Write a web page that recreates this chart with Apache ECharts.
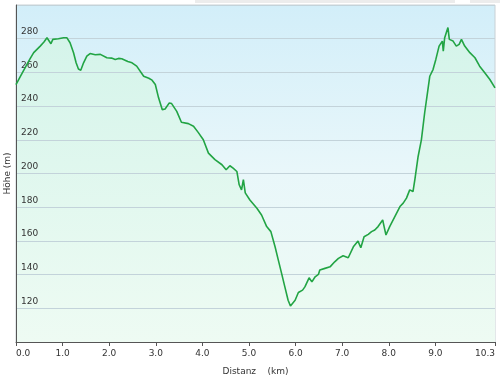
<!DOCTYPE html>
<html>
<head>
<meta charset="utf-8">
<script src="https://cdn.jsdelivr.net/npm/echarts@6/dist/echarts.min.js"></script>
<style>
  html, body { margin: 0; padding: 0; background: #fff; }
  #profil { width: 500px; height: 375px; }
</style>
</head>
<body>
<div id="profil"></div>
<script>
// Distanz in km, Höhe in m
var distanz = [0, 0.1, 0.2, 0.3, 0.38, 0.52, 0.6, 0.665, 0.7, 0.75, 0.79, 0.91, 1.02, 1.09, 1.16, 1.235, 1.29, 1.34, 1.39,
  1.45, 1.52, 1.59, 1.7, 1.81, 1.95, 2.05, 2.13, 2.2, 2.27, 2.4, 2.49, 2.59, 2.74, 2.85, 2.92, 2.99, 3.06, 3.14,
  3.2, 3.29, 3.34, 3.45, 3.55, 3.7, 3.81, 3.91, 4.02, 4.13, 4.27, 4.42, 4.51, 4.59, 4.66, 4.74, 4.79, 4.84, 4.88,
  4.92, 5.02, 5.17, 5.27, 5.38, 5.47, 5.56, 5.63, 5.7, 5.77, 5.84, 5.89, 5.93, 5.99, 6.06, 6.15, 6.2, 6.29, 6.35,
  6.42, 6.49, 6.52, 6.63, 6.74, 6.84, 6.92, 7.02, 7.13, 7.24, 7.34, 7.4, 7.47, 7.56, 7.63, 7.7, 7.77, 7.87, 7.9,
  7.94, 8.02, 8.13, 8.24, 8.31, 8.38, 8.45, 8.52, 8.56, 8.63, 8.7, 8.77, 8.82, 8.88, 8.95, 9.01, 9.08, 9.15, 9.17,
  9.2, 9.27, 9.3, 9.38, 9.45, 9.51, 9.56, 9.63, 9.74, 9.85, 9.95, 10.06, 10.17, 10.28];
var hoehe = [252.8, 258, 263, 268, 271.7, 275.6, 278, 280.6, 281.2, 277, 279.6, 280, 280.6, 280.6, 277.6, 271.7, 265.7, 262, 261.3,
  265.7, 269.6, 271.2, 270.5, 270.7, 268.7, 268.5, 267.7, 268.3, 268.1, 266.5, 265.7, 263.7, 257.7, 256.5, 255.4, 252.8, 244.9, 237.9,
  238.3, 241.9, 241.5, 236.9, 230.4, 229.6, 228, 224.4, 220, 212.1, 208.2, 205.2, 202.2, 204.6, 203.2, 201.2, 193.3, 190.3, 196.3,
  188.5, 184.3, 179.4, 175.4, 168.5, 165.5, 156.5, 148.6, 140.7, 132.7, 124.8, 121.4, 120.5, 124.8, 129.4, 130.8, 132.7, 138.1, 135.7,
  138.7, 140.1, 142.7, 143.7, 144.6, 147.6, 149.6, 151.2, 150, 156.5, 159.9, 155.9, 162.5, 163.9, 165.5, 166.5, 168.5, 172.4, 168.5,
  163.5, 168.5, 174.4, 180.4, 182.4, 185.4, 190.3, 189.3, 196.3, 210.1, 220, 235.9, 245.8, 257.7, 261.7, 267.7, 275.6, 278.6, 272.6,
  280.6, 286.6, 279.6, 278.6, 275.6, 276.6, 279.6, 275.6, 271.7, 268.7, 263.7, 259.8, 255.8, 250.8];
var xTicks = [0, 1, 2, 3, 4, 5, 6, 7, 8, 9, 10.28];

var punkte = distanz.map(function (d, i) { return [d, hoehe[i]]; });

var chart = echarts.init(document.getElementById('profil'));
chart.setOption({
  animation: false,
  textStyle: { fontFamily: 'DejaVu Sans' },
  graphic: [
    { type: 'rect', left: 195, top: 0, shape: { width: 260, height: 3 }, style: { fill: '#ececec' } },
    { type: 'rect', left: 470, top: 0, shape: { width: 30, height: 3 }, style: { fill: '#ececec' } }
  ],
  grid: {
    left: 16, right: 5, top: 5, bottom: 33,
    containLabel: false,
    outerBoundsMode: 'none',
    show: true,
    borderColor: '#c8d0d4',
    borderWidth: 1,
    backgroundColor: {
      type: 'linear', x: 0, y: 0, x2: 0, y2: 1,
      colorStops: [
        { offset: 0, color: '#d2eef9' },
        { offset: 0.5, color: '#e9f7fa' },
        { offset: 1, color: '#eefbf3' }
      ]
    }
  },
  xAxis: {
    type: 'value',
    min: 0, max: 10.28,
    z: 6,
    name: 'Distanz    (km)',
    nameLocation: 'middle',
    nameGap: 25,
    nameMoveOverlap: false,
    nameTextStyle: { fontSize: 9, color: '#333' },
    axisLine: { lineStyle: { color: '#555' } },
    axisTick: { length: 4, customValues: xTicks, lineStyle: { color: '#555' } },
    axisLabel: {
      customValues: xTicks, fontSize: 9, color: '#333', margin: 7,
      alignMinLabel: 'left', alignMaxLabel: 'right',
      formatter: function (v) { return v.toFixed(1); }
    },
    splitLine: { show: false }
  },
  yAxis: {
    type: 'value',
    min: 100, max: 300, interval: 20,
    z: 3,
    name: 'Höhe (m)',
    nameLocation: 'middle',
    nameGap: 4,
    nameMoveOverlap: false,
    nameTextStyle: { fontSize: 9, color: '#333' },
    axisLine: { show: true, lineStyle: { color: '#555' } },
    axisTick: { show: false },
    axisLabel: {
      inside: true, margin: 5, fontSize: 9, color: '#333',
      verticalAlign: 'bottom', lineHeight: 14,
      hideOverlap: false,
      showMinLabel: false, showMaxLabel: false
    },
    splitLine: { lineStyle: { color: '#c3d3da', width: 1 } }
  },
  series: [{
    type: 'line',
    data: punkte,
    symbol: 'none',
    z: 2,
    lineStyle: { width: 0 },
    areaStyle: {
      opacity: 1,
      color: {
        type: 'linear', x: 0, y: 0, x2: 0, y2: 1,
        colorStops: [
          { offset: 0, color: '#d4f4ea' },
          { offset: 1, color: '#eefbf3' }
        ]
      }
    }
  }, {
    type: 'line',
    data: punkte,
    symbol: 'none',
    z: 5,
    lineStyle: { color: '#22a444', width: 1.6 }
  }]
});
</script>
</body>
</html>
